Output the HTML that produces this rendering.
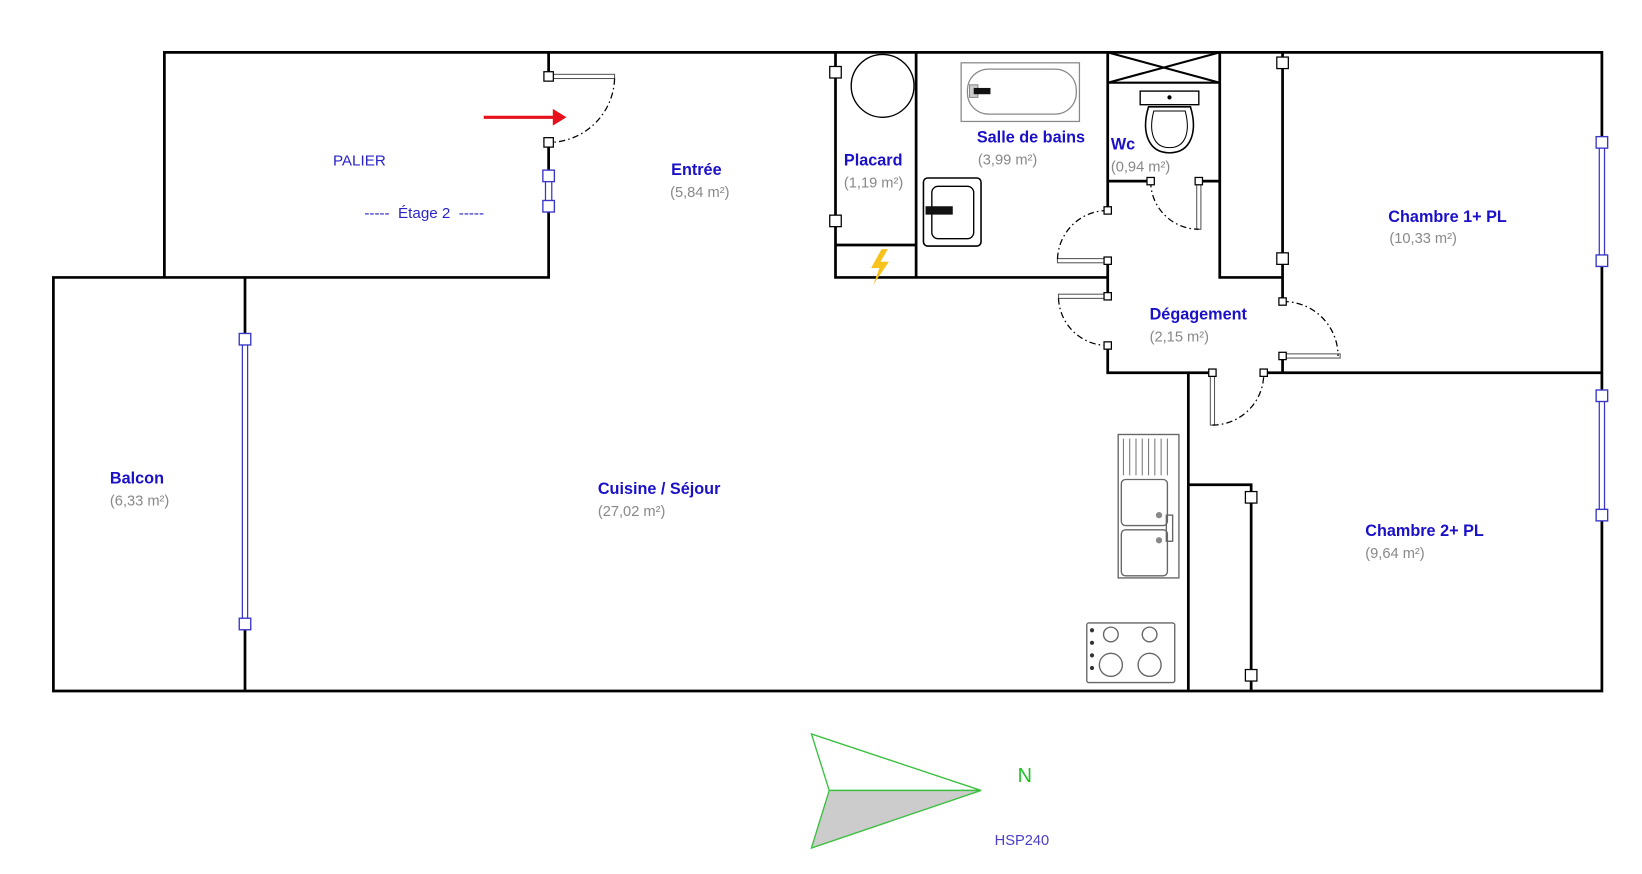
<!DOCTYPE html>
<html><head><meta charset="utf-8"><style>
html,body{margin:0;padding:0;background:#fff;width:1642px;height:874px;overflow:hidden}
svg{display:block}
text{font-family:"Liberation Sans","DejaVu Sans",sans-serif}
.l{fill:#1a10c8;font-weight:bold;font-size:15.5px}
.a{fill:#888;font-size:14px}
.w{stroke:#000;stroke-width:2.6;fill:none;stroke-linecap:square}
.sq{fill:#fff;stroke:#000;stroke-width:1.2}
.bq{fill:#fff;stroke:#3a36c8;stroke-width:1.3}
.win{stroke:#3a36c8;stroke-width:1.2;fill:#fff}
.arc{fill:none;stroke:#000;stroke-width:1.2;stroke-dasharray:6 3 1.5 3}
.lf{fill:#fff;stroke:#555;stroke-width:1}
.g{fill:none;stroke:#666;stroke-width:1.3}
</style></head><body>
<svg width="1642" height="874" viewBox="0 0 1568.3 834.8" preserveAspectRatio="none">
<!-- walls -->
<path class="w" d="M157,50 H1530 M157,50 V265 M51,265 H524 M524,50 V73 M524,136 V265 M51,265 V660 H1530 M234,265 V660 M798,50 V265 M875,50 V265 M798,234 H875 M798,265 H1058 M1058,50 V201 M1058,249 V283 M1058,330 V356 H1158 M1207,356 H1530 M1058,173 H1099 M1145,173 H1165 M1165,50 V265 H1225 M1225,50 V288 M1225,340 V356 M1530,50 V660 M1135,356 V660 M1135,463 H1195 V660"/>
<path d="M1058,79 H1165 M1058,50 L1165,79 M1165,50 L1058,79" stroke="#000" stroke-width="2" fill="none"/>
<!-- palier entry door -->
<rect x="524" y="71" width="63" height="4" class="lf"/>
<path class="arc" d="M587,75 A63,63 0 0 1 524,136"/>
<line x1="462" y1="112" x2="530" y2="112" stroke="#e8101a" stroke-width="3"/>
<polygon points="528,104 541,112 528,120" fill="#e8101a"/>
<rect x="519.5" y="68.5" width="9" height="9" class="sq"/>
<rect x="519.5" y="131.5" width="9" height="9" class="sq"/>
<!-- small window on entry wall -->
<rect x="521" y="168" width="6" height="30" class="win"/>
<rect x="518.5" y="162.5" width="11" height="11" class="bq"/>
<rect x="518.5" y="191.5" width="11" height="11" class="bq"/>
<!-- balcony window -->
<rect x="231.5" y="324" width="5" height="272" class="win"/>
<rect x="228.5" y="318.5" width="11" height="11" class="bq"/>
<rect x="228.5" y="590.5" width="11" height="11" class="bq"/>
<!-- right windows -->
<rect x="1527.5" y="136" width="5" height="113" class="win"/>
<rect x="1524.5" y="130.5" width="11" height="11" class="bq"/>
<rect x="1524.5" y="243.5" width="11" height="11" class="bq"/>
<rect x="1527.5" y="378" width="5" height="114" class="win"/>
<rect x="1524.5" y="372.5" width="11" height="11" class="bq"/>
<rect x="1524.5" y="486.5" width="11" height="11" class="bq"/>
<!-- placard sliding door markers -->
<rect x="792.5" y="63.5" width="11" height="11" class="sq"/>
<rect x="792.5" y="205.5" width="11" height="11" class="sq"/>
<rect x="1219.5" y="54.5" width="11" height="11" class="sq"/>
<rect x="1219.5" y="241.5" width="11" height="11" class="sq"/>
<rect x="1189.5" y="469.5" width="11" height="11" class="sq"/>
<rect x="1189.5" y="639.5" width="11" height="11" class="sq"/>
<!-- SdB door -->
<rect x="1010" y="247" width="48" height="4" class="lf"/>
<path class="arc" d="M1058,201 A48,48 0 0 0 1010,249"/>
<rect x="1054.5" y="197.5" width="7" height="7" class="sq"/>
<rect x="1054.5" y="245.5" width="7" height="7" class="sq"/>
<!-- cuisine door -->
<rect x="1011" y="281" width="47" height="4" class="lf"/>
<path class="arc" d="M1011,285 A47,47 0 0 0 1058,330"/>
<rect x="1054.5" y="279.5" width="7" height="7" class="sq"/>
<rect x="1054.5" y="326.5" width="7" height="7" class="sq"/>
<!-- WC door -->
<rect x="1143" y="173" width="4" height="46" class="lf"/>
<path class="arc" d="M1099,173 A46,46 0 0 0 1145,219"/>
<rect x="1095.5" y="169.5" width="7" height="7" class="sq"/>
<rect x="1141.5" y="169.5" width="7" height="7" class="sq"/>
<!-- chambre 1 door -->
<rect x="1225" y="338" width="55" height="4" class="lf"/>
<path class="arc" d="M1225,288 A52,52 0 0 1 1278,340"/>
<rect x="1221.5" y="284.5" width="7" height="7" class="sq"/>
<rect x="1221.5" y="336.5" width="7" height="7" class="sq"/>
<!-- chambre 2 door -->
<rect x="1156" y="356" width="4" height="50" class="lf"/>
<path class="arc" d="M1158,406 A49,49 0 0 0 1207,356"/>
<rect x="1154.5" y="352.5" width="7" height="7" class="sq"/>
<rect x="1203.5" y="352.5" width="7" height="7" class="sq"/>
<!-- placard fixtures -->
<circle cx="843" cy="82" r="30" fill="#fff" stroke="#000" stroke-width="1.3"/>
<polygon points="842,238 832,256 840,256 834,272 849,250 841,250 848,238" fill="#f7c21a"/>
<!-- bath -->
<rect x="918" y="60" width="113" height="56" fill="#fff" stroke="#888" stroke-width="1.2"/>
<rect x="924" y="66" width="104" height="43" rx="20" fill="#fff" stroke="#888" stroke-width="1.2"/>
<rect x="926" y="81" width="8" height="12" fill="#ccc" stroke="#888"/>
<rect x="930" y="84" width="16" height="6" fill="#111"/>
<!-- sink -->
<rect x="882" y="170" width="55" height="65" rx="4" fill="#fff" stroke="#000" stroke-width="1.5"/>
<rect x="890" y="178" width="40" height="50" rx="6" fill="#fff" stroke="#000" stroke-width="1.3"/>
<rect x="884" y="197" width="26" height="8" fill="#111"/>
<!-- WC -->
<rect x="1089" y="87" width="56" height="13" fill="#fff" stroke="#000" stroke-width="1.3"/>
<circle cx="1117" cy="93" r="2" fill="#000"/>
<path d="M1097,102 C1090,125 1096,146 1117,146 C1138,146 1144,125 1137,102 Z" fill="#fff" stroke="#000" stroke-width="1.5"/>
<path d="M1102,106 C1097,125 1101,141 1117,141 C1133,141 1137,125 1132,106 Z" fill="none" stroke="#000" stroke-width="1"/>
<!-- kitchen sink -->
<rect x="1068" y="415" width="58" height="137" class="g"/>
<path d="M1073,419 V454 M1079,419 V454 M1085,419 V454 M1091,419 V454 M1097,419 V454 M1103,419 V454 M1109,419 V454 M1115,419 V454" stroke="#777" stroke-width="1"/>
<rect x="1071" y="458" width="44" height="44" rx="4" class="g"/>
<rect x="1071" y="506" width="44" height="44" rx="4" class="g"/>
<circle cx="1107" cy="492" r="3" fill="#888"/><circle cx="1107" cy="516" r="3" fill="#888"/>
<rect x="1114" y="492" width="6" height="25" class="g"/>
<!-- stove -->
<rect x="1038" y="595" width="84" height="57" rx="2" class="g"/>
<circle cx="1061" cy="606" r="7" class="g" stroke="#333"/><circle cx="1098" cy="606" r="7" class="g" stroke="#333"/>
<circle cx="1061" cy="635" r="11" class="g" stroke="#333"/><circle cx="1098" cy="635" r="11" class="g" stroke="#333"/>
<circle cx="1043" cy="602" r="2" fill="#333"/><circle cx="1043" cy="614" r="2" fill="#333"/><circle cx="1043" cy="626" r="2" fill="#333"/><circle cx="1043" cy="638" r="2" fill="#333"/>
<!-- compass -->
<polygon points="775,701 792,755 937,755" fill="#fff" stroke="#3cc040" stroke-width="1.3"/>
<polygon points="792,755 937,755 775,810" fill="#ccc" stroke="#3cc040" stroke-width="1.3"/>
<text x="972" y="747" fill="#22c02a" font-size="19">N</text>
<text x="950" y="807" fill="#4a3ec8" font-size="14">HSP240</text>
<!-- labels -->
<text x="318" y="158" fill="#2a24c8" font-size="14.5">PALIER</text>
<text x="348" y="208" fill="#2a24c8" font-size="14.5" xml:space="preserve">-----  Étage 2  -----</text>
<text class="l" x="641" y="167">Entrée</text><text class="a" x="640" y="188">(5,84 m²)</text>
<text class="l" x="806" y="158">Placard</text><text class="a" x="806" y="179">(1,19 m²)</text>
<text class="l" x="933" y="136">Salle de bains</text><text class="a" x="934" y="157">(3,99 m²)</text>
<text class="l" x="1061" y="143">Wc</text><text class="a" x="1061" y="164">(0,94 m²)</text>
<text class="l" x="1326" y="212">Chambre 1+ PL</text><text class="a" x="1327" y="232">(10,33 m²)</text>
<text class="l" x="1098" y="305">Dégagement</text><text class="a" x="1098" y="326">(2,15 m²)</text>
<text class="l" x="105" y="462">Balcon</text><text class="a" x="105" y="483">(6,33 m²)</text>
<text class="l" x="571" y="472">Cuisine / Séjour</text><text class="a" x="571" y="493">(27,02 m²)</text>
<text class="l" x="1304" y="512">Chambre 2+ PL</text><text class="a" x="1304" y="533">(9,64 m²)</text>
</svg>
</body></html>
